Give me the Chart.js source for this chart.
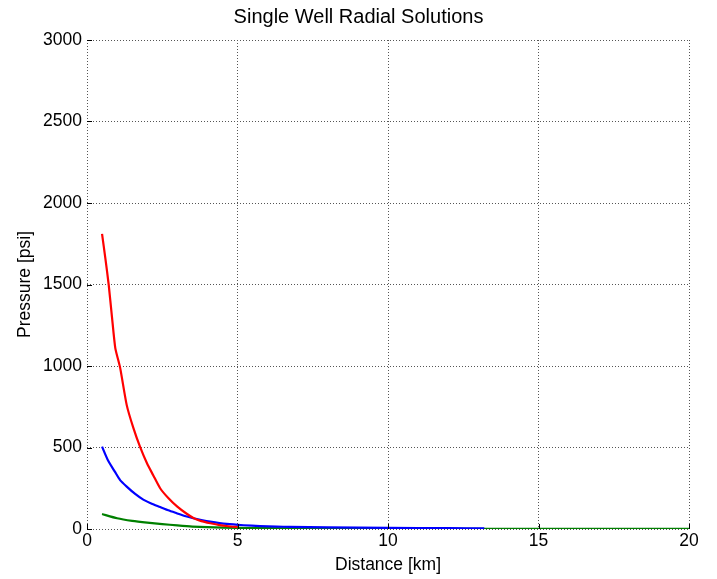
<!DOCTYPE html>
<html><head><meta charset="utf-8">
<script src="https://cdn.jsdelivr.net/npm/chart.js@4"></script>
<style>html,body{margin:0;padding:0;background:#fff}#wrap{width:717px;height:579px}</style>
</head><body><div id="wrap"><canvas id="c" width="717" height="579"></canvas></div>
<script>
const titleText = "Single Well Radial Solutions";
const xTitle = "Distance [km]";
const yTitle = "Pressure [psi]";
const redDist = [0.5,0.61,0.72,0.83,0.94,1.1,1.32,1.54,1.76,2.0,2.2,2.43,2.7,3.0,3.3,3.55,3.8,4.1,4.4,4.7,5.0];
const redP    = [1810,1660,1500,1300,1110,990,760,620,505,400,330,250,190,137,95,66,48,35,24,17,12];
const blueDist = [0.5,0.7,0.93,1.1,1.32,1.6,1.87,2.15,2.43,2.7,2.98,3.25,3.53,3.8,4.09,4.64,5.2,5.75,6.3,6.74,8,10,12,13.2];
const blueP    = [505,420,350,300,260,215,180,155,135,115,97,80,66,55,45,31,23,18,15,13,10,7,5,4];
const greenDist = [0.5,1.0,1.5,2.0,2.5,3.0,3.5,4.0,5,6,8,10,13,16,20];
const greenP    = [92,66,50,39,30,22,15,11,7,5,3,2,1.5,1,1];

const pts = (xs, ys) => xs.map((x,i)=>({x, y: ys[i]}));
const FONT = "'Liberation Sans', Arial, sans-serif";

const innerTicks = {
  id:'innerTicks',
  afterDraw(chart){
    const {ctx, chartArea:a, scales:{x,y}} = chart;
    ctx.save(); ctx.strokeStyle='#000'; ctx.lineWidth=1;
    ctx.beginPath();
    x.ticks.forEach(t=>{const px=Math.round(x.getPixelForValue(t.value))+0.5; ctx.moveTo(px,a.bottom); ctx.lineTo(px,a.bottom-5);});
    y.ticks.forEach(t=>{const py=Math.round(y.getPixelForValue(t.value))+0.5; ctx.moveTo(a.left,py); ctx.lineTo(a.left+5,py);});
    ctx.stroke(); ctx.restore();
  }
};

new Chart(document.getElementById('c'), {
  type:'line',
  data:{datasets:[
    {data:pts(redDist,redP), borderColor:'#ff0000', borderWidth:2.2, pointRadius:0, tension:0.2},
    {data:pts(blueDist,blueP), borderColor:'#0000ff', borderWidth:2.2, pointRadius:0, tension:0.2},
    {data:pts(greenDist,greenP), borderColor:'#008000', borderWidth:2.2, pointRadius:0, tension:0.2}
  ]},
  options:{
    responsive:false, animation:false,
    layout:{padding:0},
    plugins:{
      legend:{display:false}, tooltip:{enabled:false},
      title:{display:true, text:titleText, color:'#000', font:{family:FONT,size:20,weight:'normal'}, padding:{top:5,bottom:11}}
    },
    scales:{
      x:{type:'linear', min:0, max:20,
        ticks:{stepSize:5, color:'#000', font:{family:FONT,size:17.5}, padding:2, maxRotation:0, callback:v=>String(v)},
        grid:{color:'#555', drawTicks:false, lineWidth:1},
        border:{display:false, dash:[1,2]},
        title:{display:true, text:xTitle, color:'#000', font:{family:FONT,size:17.5}, padding:{top:0,bottom:3.5}},
        afterFit(s){s.height=50;}
      },
      y:{min:0, max:3000,
        ticks:{stepSize:500, color:'#000', font:{family:FONT,size:17.5}, padding:5, callback:v=>String(v)},
        grid:{color:'#555', drawTicks:false, lineWidth:1},
        border:{display:false, dash:[1,2]},
        title:{display:true, text:yTitle, color:'#000', font:{family:FONT,size:17.5}, padding:{top:14.5,bottom:0}},
        afterFit(s){s.width=87;}
      },
      spacer:{position:'right', min:0, max:1,
        grid:{display:false}, ticks:{display:false}, border:{display:false},
        afterFit(s){s.width=28;}
      }
    }
  },
  plugins:[innerTicks]
});
</script></body></html>
